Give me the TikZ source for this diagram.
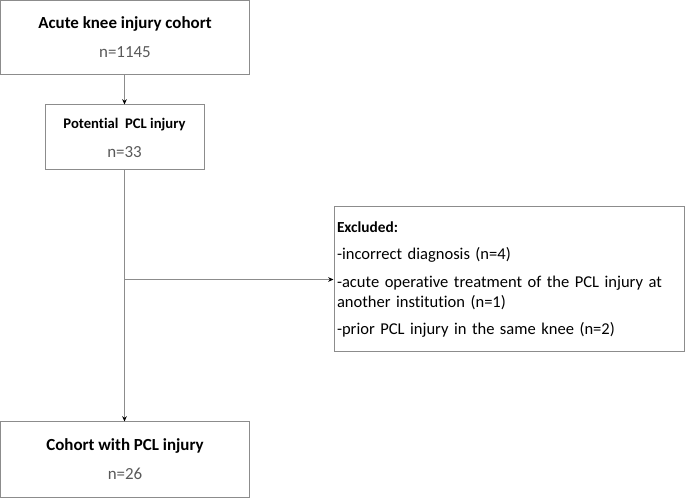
\documentclass[tikz,border=0pt]{standalone}
\usepackage{fontspec}
\setmainfont{Carlito}[Ligatures=NoCommon]
\usetikzlibrary{arrows.meta,calc}
\definecolor{boxgray}{HTML}{8C8C8C}
\definecolor{countgray}{HTML}{595959}

\begin{document}
\begin{tikzpicture}[x=0.75pt,y=-0.75pt,
    flowbox/.style={draw=boxgray, line width=0.75pt, rectangle, align=center, inner sep=0pt},
    flowline/.style={draw=boxgray, line width=0.75pt, -{Stealth[black,length=4pt,width=3.5pt]}},
    count/.style={color=countgray}]
        \useasboundingbox (0,0) rectangle (685,498);
        \node[flowbox, minimum width=186.75pt, minimum height=55.5pt, font=\fontsize{12.7}{15}\selectfont] (cohort) at (125,37.5)
            {\textbf{Acute knee injury cohort}\\[6.75pt]{\color{countgray}n=1145}};
        \node[flowbox, minimum width=119.25pt, minimum height=48.75pt, font=\fontsize{11}{15}\selectfont] (potential) at (124.5,137.5)
            {\textbf{Potential\ \ PCL injury}\\[6.75pt]{\fontsize{12.7}{15}\selectfont\color{countgray}n=33}};
        \node[flowbox, minimum width=262.5pt, minimum height=108.75pt, align=left, inner xsep=2.25pt, text width=258pt,
            font=\fontsize{12.4}{15}\selectfont] (excluded) at (509,279.5)
            {{\fontsize{11.5}{15}\selectfont\textbf{Excluded:}}\\[5.5pt]
             -incorrect diagnosis (n=4)\\[5.5pt]
             -acute operative treatment of the PCL injury at\\
             another institution (n=1)\\[5.5pt]
             -prior PCL injury in the same knee (n=2)};
        \node[flowbox, minimum width=186.75pt, minimum height=56.25pt, font=\fontsize{12.7}{15}\selectfont] (final) at (125,459.5)
            {\textbf{Cohort with PCL injury}\\[6.75pt]{\color{countgray}n=26}};
        \coordinate (branch) at (potential.south |- excluded.west);
        % connectors
        \draw[flowline] (cohort.south -| potential.north) -- (potential.north);
        \draw[flowline] (potential.south) -- (final.north -| potential.south);
        \draw[flowline] (branch) -- (excluded.west);
    \end{tikzpicture}
\end{document}
